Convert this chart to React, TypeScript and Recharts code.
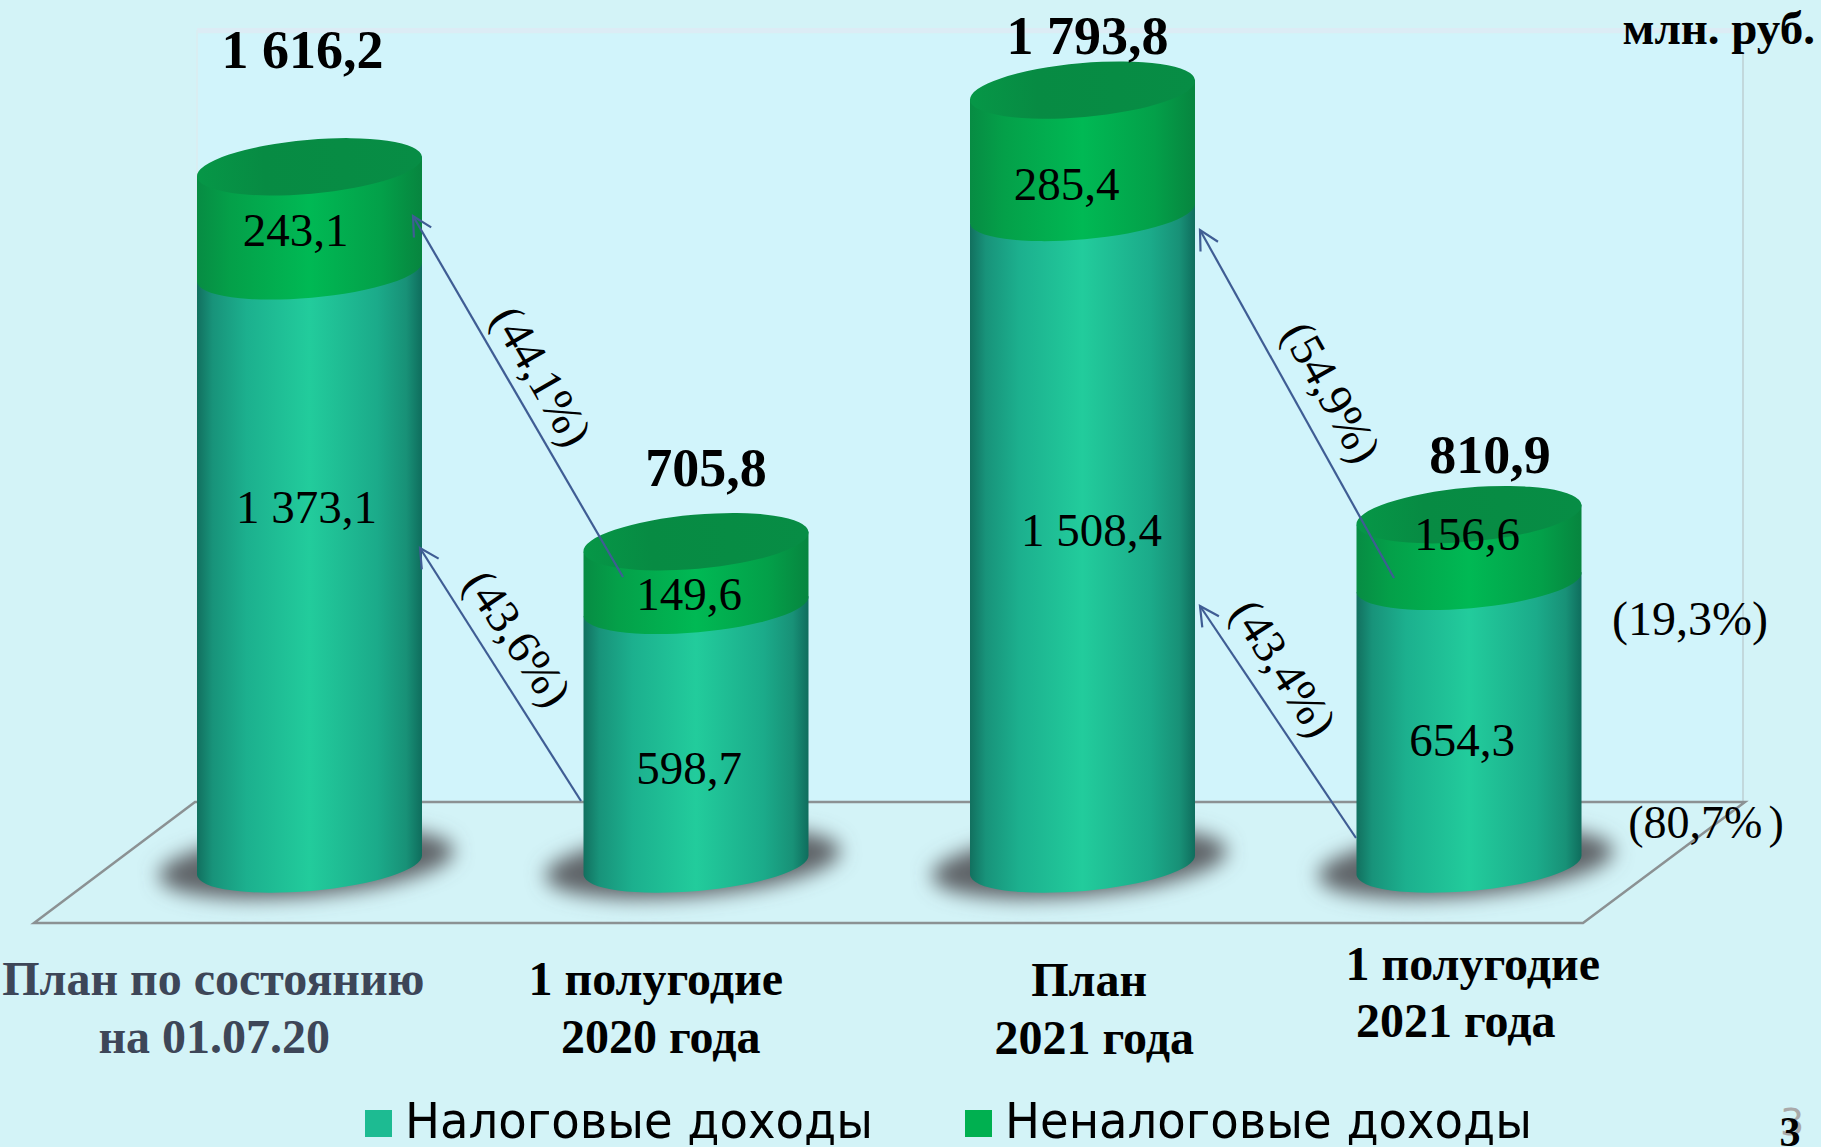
import { BarChart, Bar, XAxis, YAxis, LabelList, Legend } from 'recharts'

const W = 1821
const H = 1147
const SERIF = '"Liberation Serif", serif'
const TILT = 10
const RY = 26

const categories = ['План по состоянию\nна 01.07.20', '1 полугодие\n2020 года', 'План\n2021 года', '1 полугодие\n2021 года']
const taxValues = [1373.1, 598.7, 1508.4, 654.3]
const nonTaxValues = [243.1, 149.6, 285.4, 156.6]
const totals = [1616.2, 705.8, 1793.8, 810.9]

const data = categories.map((name, i) => ({
  name,
  tax: taxValues[i],
  nonTax: nonTaxValues[i],
  total: totals[i],
}))

// hand placed offsets, the labels on the slide are not centred on the bars
const taxLabelPos = [[-3, 251], [-7, 178], [9, 333], [-7, 174]]
const nonTaxLabelPos = [[-14, 79], [-7, 68], [-16, 110], [-2, 35]]
const totalLabelPos = [[-7, -99], [10, -56], [5, -36], [21, -42]]
const tickPos = [
  [[-96, 995], [-95, 1053]],
  [[-40, 995], [-35, 1053]],
  [[7, 996], [12, 1054]],
  [[4, 980], [-13, 1037]],
]
const tickColors = ['#3d4658', '#000', '#000', '#000']

const arrows = [
  [623, 577, 413, 216],
  [581, 801, 420, 548],
  [1394, 578, 1200, 230],
  [1356, 838, 1200, 606],
]
const shareLabels = [
  { text: '(44,1%)', x: 542, y: 376, angle: 60 },
  { text: '(43,6%)', x: 518, y: 638, angle: 56 },
  { text: '(54,9%)', x: 1332, y: 392, angle: 61 },
  { text: '(43,4%)', x: 1284, y: 668, angle: 57 },
]

const formatValue = (v: number) => {
  const [whole, frac] = v.toFixed(1).split('.')
  return whole.replace(/\B(?=(\d{3})+$)/g, ' ') + ',' + frac
}

const Cylinder = ({ x, y, width, height, kind }: any) => {
  const rx = Math.sqrt((width / 2) ** 2 + TILT ** 2)
  const rot = (-Math.atan((2 * TILT) / width) * 180) / Math.PI
  const bottom = y + height
  const cx = x + width / 2
  const body = `M${x},${y + TILT} L${x},${bottom + TILT} A${rx},${RY} ${rot} 0 0 ${x + width},${bottom - TILT} L${x + width},${y - TILT} Z`

  if (kind === 'tax') {
    return (
      <g>
        <ellipse
          cx={cx - 3}
          cy={bottom - 2}
          rx={148}
          ry={33}
          transform={`rotate(${rot} ${cx} ${bottom})`}
          fill="#5f6468"
          filter="url(#shadowBlur)"
        />
        <path d={body} fill="url(#taxGrad)" />
      </g>
    )
  }
  return (
    <g>
      <path d={body} fill="url(#nonTaxGrad)" />
      <ellipse cx={cx} cy={y} rx={rx} ry={RY + 1} transform={`rotate(${rot} ${cx} ${y})`} fill="url(#capGrad)" />
    </g>
  )
}

const makeValueLabel = (pos: number[][], size: number, bold: boolean) => (props: any) => {
  const box = props.viewBox ?? props
  const { value, index } = props
  return (
    <text
      x={box.x + box.width / 2 + pos[index][0]}
      y={box.y + pos[index][1]}
      textAnchor="middle"
      fontFamily={SERIF}
      fontSize={size}
      fontWeight={bold ? 'bold' : 'normal'}
      fill="#000"
    >
      {formatValue(value)}
    </text>
  )
}

const CategoryTick = ({ x, payload, index }: any) => {
  const lines = String(payload.value).split('\n')
  return (
    <g>
      {lines.map((line, i) => (
        <text
          key={i}
          x={x + tickPos[index][i][0]}
          y={tickPos[index][i][1]}
          textAnchor="middle"
          fontFamily={SERIF}
          fontSize={48}
          fontWeight="bold"
          fill={tickColors[index]}
        >
          {line}
        </text>
      ))}
    </g>
  )
}

const legendPos = [365, 965]
const LegendContent = ({ payload }: any) => (
  <div>
    {(payload || []).map((item: any, i: number) => (
      <div key={i} style={{ position: 'absolute', left: legendPos[i], top: 1096, whiteSpace: 'nowrap' }}>
        <span style={{ position: 'absolute', left: 0, top: 14, width: 27, height: 27, background: item.color }} />
        <span
          style={{
            position: 'absolute',
            left: 40,
            top: 0,
            fontFamily: '"DejaVu Sans"',
            fontSize: 49,
            lineHeight: '51px',
            color: '#000',
            transform: 'scaleX(0.95)',
            transformOrigin: 'left center',
          }}
        >
          {item.value}
        </span>
      </div>
    ))}
  </div>
)

export default function App() {
  return (
    <div style={{ position: 'absolute', left: 0, top: 0, width: W, height: H, background: '#d3f3f7', overflow: 'hidden' }}>
      {/* back wall and floor */}
      <svg width={W} height={H} style={{ position: 'absolute', left: 0, top: 0 }}>
        <rect x={197} y={34} width={1546} height={768} fill="#d1f4fb" />
        <rect x={197} y={28} width={1546} height={5} fill="#dcecf5" />
        <line x1={1743} y1={52} x2={1743} y2={802} stroke="#c2d8dc" strokeWidth={2} />
        <line x1={197} y1={30} x2={197} y2={802} stroke="#d9eef2" strokeWidth={2} />
        <polygon points="195,802 1745,802 1583,923 34,923" fill="#d3f3f7" stroke="#8b9193" strokeWidth={2.5} />
      </svg>

      <div style={{ position: 'absolute', left: 0, top: 0 }}>
        <BarChart width={W} height={H} data={data} margin={{ top: 1, right: 159, bottom: 0, left: 116 }} barSize={225}>
          <defs>
            <linearGradient id="taxGrad" x1="0" y1="0" x2="1" y2="0">
              <stop offset="0%" stopColor="#12705f" />
              <stop offset="7%" stopColor="#18937a" />
              <stop offset="22%" stopColor="#1cb08e" />
              <stop offset="50%" stopColor="#22cc9c" />
              <stop offset="80%" stopColor="#1bab8a" />
              <stop offset="93%" stopColor="#189177" />
              <stop offset="100%" stopColor="#0f6d5d" />
            </linearGradient>
            <linearGradient id="nonTaxGrad" x1="0" y1="0" x2="1" y2="0">
              <stop offset="0%" stopColor="#078c43" />
              <stop offset="15%" stopColor="#04a049" />
              <stop offset="50%" stopColor="#00b954" />
              <stop offset="82%" stopColor="#03a049" />
              <stop offset="100%" stopColor="#07853f" />
            </linearGradient>
            <linearGradient id="capGrad" x1="0" y1="0" x2="1" y2="0">
              <stop offset="0%" stopColor="#069747" />
              <stop offset="30%" stopColor="#078b43" />
              <stop offset="100%" stopColor="#078d45" />
            </linearGradient>
            <filter id="shadowBlur" x="-20%" y="-50%" width="140%" height="200%">
              <feGaussianBlur stdDeviation="10" />
            </filter>
          </defs>
          <XAxis dataKey="name" axisLine={false} tickLine={false} height={282} interval={0} tick={<CategoryTick />} />
          <YAxis hide domain={[0, 2000]} />
          <Legend content={<LegendContent />} wrapperStyle={{ left: 0, top: 0, width: W, height: 0 }} />
          <Bar
            dataKey="tax"
            name="Налоговые доходы"
            stackId="a"
            fill="#1dbb92"
            isAnimationActive={false}
            shape={(p: any) => <Cylinder {...p} kind="tax" />}
          >
            <LabelList dataKey="tax" content={makeValueLabel(taxLabelPos, 47, false)} />
          </Bar>
          <Bar
            dataKey="nonTax"
            name="Неналоговые доходы"
            stackId="a"
            fill="#00b050"
            isAnimationActive={false}
            shape={(p: any) => <Cylinder {...p} kind="nonTax" />}
          >
            <LabelList dataKey="nonTax" content={makeValueLabel(nonTaxLabelPos, 47, false)} />
            <LabelList dataKey="total" content={makeValueLabel(totalLabelPos, 54, true)} />
          </Bar>
        </BarChart>
      </div>

      {/* arrows and side notes of the slide */}
      <svg width={W} height={H} style={{ position: 'absolute', left: 0, top: 0, pointerEvents: 'none' }}>
        <defs>
          <marker id="openHead" markerUnits="userSpaceOnUse" markerWidth="26" markerHeight="26" refX="22" refY="13" orient="auto">
            <path d="M3,3 L22,13 L3,23" fill="none" stroke="#3f5d94" strokeWidth={2.2} />
          </marker>
        </defs>
        {arrows.map(([x1, y1, x2, y2], i) => (
          <line key={i} x1={x1} y1={y1} x2={x2} y2={y2} stroke="#3f5d94" strokeWidth={2.2} markerEnd="url(#openHead)" />
        ))}
        {shareLabels.map((l) => (
          <text
            key={l.text}
            x={l.x}
            y={l.y}
            textAnchor="middle"
            dominantBaseline="central"
            fontFamily={SERIF}
            fontSize={47}
            transform={`rotate(${l.angle} ${l.x} ${l.y})`}
          >
            {l.text}
          </text>
        ))}
        <text x={1690} y={635} textAnchor="middle" fontFamily={SERIF} fontSize={48}>(19,3%)</text>
        <text x={1706} y={838} textAnchor="middle" fontFamily={SERIF} fontSize={46}>(80,7%<tspan dx={6}>)</tspan></text>
        <text x={1815} y={44} textAnchor="end" fontFamily={SERIF} fontSize={47} fontWeight="bold">млн. руб.</text>
        <text x={1792} y={1135} textAnchor="middle" fontFamily='"DejaVu Sans"' fontSize={38} fill="#a9a9a9">3</text>
        <text x={1790} y={1146} textAnchor="middle" fontFamily={SERIF} fontSize={42} fontWeight="bold">3</text>
      </svg>
    </div>
  )
}
